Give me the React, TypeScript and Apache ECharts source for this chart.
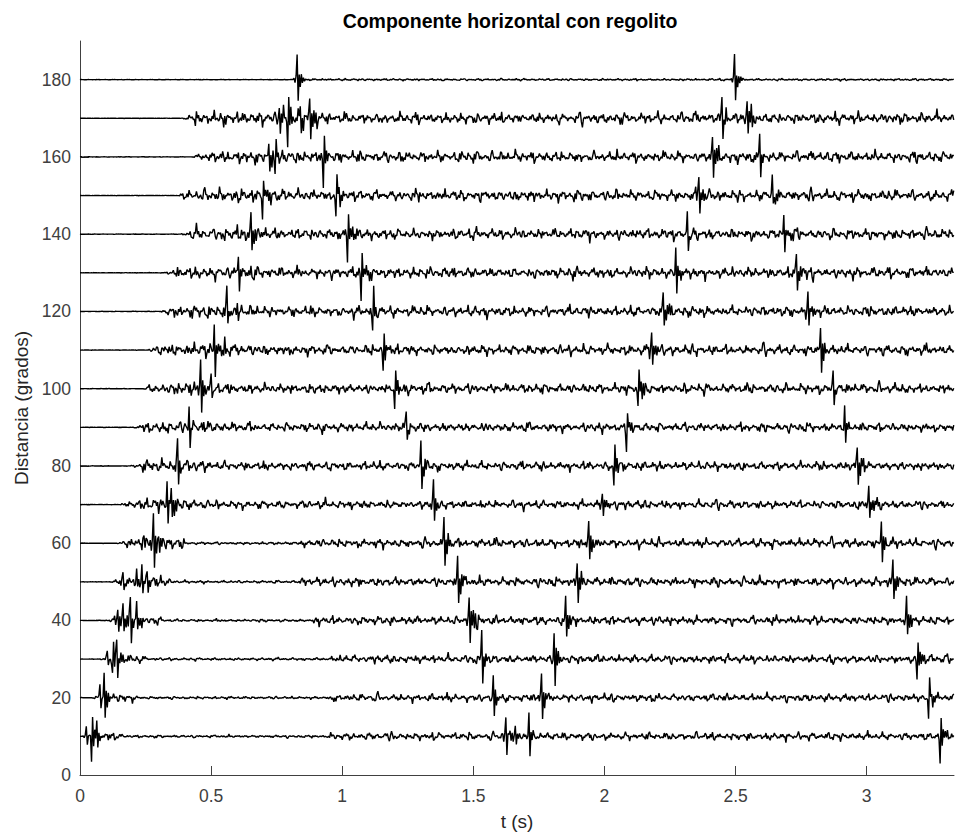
import React, { useEffect, useRef } from "react";
import * as echarts from "echarts";

// ---- data ----
const DISTANCES = [10, 20, 30, 40, 50, 60, 70, 80, 90, 100, 110, 120, 130, 140, 150, 160, 170, 180];

// arrival times (s) of the four phases, per trace (null = no arrival)
const T_A = [0.045, 0.09, 0.14, 0.19, 0.235, 0.28, 0.33, 0.37, 0.417, 0.46, 0.513, 0.558, 0.605, 0.65, 0.697, 0.745, 0.79, 0.83];
const T_B = [1.622, 1.576, 1.53, 1.484, 1.44, 1.39, 1.347, 1.298, 1.245, 1.2, 1.155, 1.115, 1.07, 1.02, 0.975, 0.926, 0.875, null];
const T_C = [1.713, 1.76, 1.808, 1.853, 1.897, 1.94, 1.99, 2.035, 2.085, 2.127, 2.18, 2.222, 2.27, 2.315, 2.36, 2.41, 2.449, 2.495];
const T_D = [3.28, 3.235, 3.19, 3.15, 3.1, 3.055, 3.01, 2.965, 2.915, 2.87, 2.822, 2.775, 2.73, 2.685, 2.64, 2.59, 2.545, null];

// peak amplitudes (degrees of offset), sign = polarity of main swing
const AMP_A = [-6, 6, 6.3, 6.8, 4.2, 7, 5.8, 7, 5.7, 7, 7, 5.5, 5.7, 4.8, -5.2, -6, -6.5, 6.5];
const AMP_B = [6, 5.3, 7, 6.5, 6, 6, 7, 5.2, 5, -5, -5, -5.4, -6.7, -6.7, -6.7, -6.7, 6.5, 0];
const AMP_C = [6.2, 6.2, 6.7, 5.4, 5, 5.5, 5, -5.7, -6, -5.7, 5, 5, 5.5, 5.5, 5.5, 5.5, 6.7, 6.5];
const AMP_D = [-5.7, -5, -5.7, 5, 5, 5.5, 5, 5.5, 5.5, 5, 5.5, 5.5, 5.5, 5, 5, 5, 5, 0];

// secondary spikes: [distance, time, amplitude]
const EXTRA_PULSES: [number, number, number][] = [
  [10, 0.025, 2.5], [10, 0.065, 3.5], [10, 1.66, 3.2],
  [20, 0.075, 3],
  [30, 0.125, -3.5], [30, 0.105, 2],
  [40, 0.145, 3], [40, 0.165, 3.8], [40, 0.215, 4], [40, 1.517, -2],
  [50, 0.165, 2.5], [50, 0.215, 3], [50, 0.255, 3],
  [60, 0.245, 2.5], [60, 0.3, 3],
  [70, 0.35, 3],
  [100, 0.5, 2.2], [110, 0.55, 2.4], [120, 0.6, 2],
  [160, 0.72, 3], [170, 0.76, 3.2], [170, 0.84, 2.6],
];

// time at which the scattered wavetrain starts on each trace
const ONSET = [0.01, 0.04, 0.07, 0.09, 0.11, 0.14, 0.15, 0.19, 0.2, 0.24, 0.25, 0.3, 0.32, 0.38, 0.37, 0.43, 0.39, 0.83];
// end of the quiet stretch after the first arrival (0 = none)
const QUIET_END = [0.95, 0.96, 0.95, 0.89, 0.84, 0.84, 0, 0, 0, 0, 0, 0, 0, 0, 0, 0, 0, 0];
// noise level before / after the first arrival
const LVL_PRE = [1.4, 1.4, 1.4, 1.5, 1.8, 2.0, 2.1, 2.1, 2.2, 2.2, 2.2, 2.2, 2.2, 2.2, 2.3, 2.2, 2.4, 0.35];
const LVL_POST = [1.3, 1.3, 1.35, 1.4, 1.5, 1.5, 1.4, 1.45, 1.5, 1.65, 1.7, 1.7, 1.8, 1.8, 1.85, 1.8, 1.8, 0.35];

// hand-drawn waveform pieces
const WAVELET = [0.06, -0.12, 0.15, 1.0, -0.85, 0.2, -0.3, 0.22, -0.14, 0.1, -0.06];
const WAVELET_PEAK = 3;
const NOISE_A = [0.2, -0.5, 0.7, -0.3, -0.6, 0.4, 0.9, -0.2, -0.8, 0.3, 0.5, -0.4, 0.1, -0.7, 0.6, 0.2, -0.9, 0.5, -0.1, 0.4, -0.6, 0.8, -0.3, -0.5, 0.6, -0.2, 0.3, -0.8, 1.0, -0.4, 0.1, -0.3, 0.5, -0.6, 0.2, 0.7, -0.5, -0.2, 0.4, -0.9, 0.6, 0.3, -0.4, 0.2, -0.6, 0.8, -0.7, 0.1, 0.5, -0.3, -0.4, 0.7, -0.2, 0.3, -0.5, 0.9, -0.8, 0.2, 0.4, -0.6, 0.3, -0.1, 0.6, -0.7, 0.5, -0.3, -0.2, 0.8, -0.6, 0.1, 0.3, -0.5, 0.7, -0.9, 0.4, 0.2, -0.3, 0.6, -0.4, -0.7, 0.9, -0.2, 0.1, -0.5, 0.4, -0.3, 0.8, -0.6, 0.2, -0.1, 0.5, -0.8, 0.6, -0.2, 0.3, -0.4, 0.1];
const NOISE_B = [0.3, 0.6, 0.4, -0.1, -0.5, -0.7, -0.4, 0.1, 0.5, 0.8, 0.5, 0.0, -0.4, -0.6, -0.3, 0.2, 0.6, 0.4, -0.1, -0.6, -0.9, -0.5, 0.0, 0.4, 0.7, 0.6, 0.2, -0.3, -0.5, -0.2, 0.3, 0.5, 0.2, -0.2, -0.7, -0.8, -0.3, 0.2, 0.6, 0.9, 0.6, 0.1, -0.3, -0.6, -0.4, 0.0, 0.4, 0.3, -0.1, -0.5, -0.6, -0.2, 0.3, 0.7, 0.5, 0.1, -0.4, -0.7, -0.5, -0.1, 0.2, 0.5, 0.7, 0.4, -0.2, -0.5, -0.3, 0.1, 0.4, 0.2, -0.3, -0.8, -0.6, -0.1, 0.3, 0.6, 0.8, 0.3, -0.2, -0.4, -0.6, -0.3, 0.2, 0.5, 0.3, -0.1, -0.4, -0.2, 0.1];
const BURST = [0.6, 0.9, 1.4, 0.8, 0.5, 1.1, 1.6, 0.7, 0.6, 1.0, 0.8, 1.3, 0.6, 0.9, 1.5, 1.1, 0.5, 0.7, 1.2, 0.9, 0.6, 1.4, 0.8, 0.5, 1.0, 1.3, 0.7, 0.9, 1.6, 0.8, 0.6, 1.1, 0.7, 1.2, 0.9, 0.5, 1.3, 1.0, 0.7, 1.5, 0.6, 0.8, 1.1, 0.9, 1.4, 0.6, 0.7, 1.2, 1.0, 0.5, 0.9, 1.3, 0.8];

const X_TICKS = [0, 0.5, 1, 1.5, 2, 2.5, 3];
const Y_TICKS = [0, 20, 40, 60, 80, 100, 120, 140, 160, 180];
const T_MAX = 3.333;
const Y_MAX = 190;
const DT = 0.004;

const TITLE = "Componente horizontal con regolito";
const X_NAME = "t (s)";
const Y_NAME = "Distancia (grados)";

const FONT = "'Liberation Sans', Arial, Helvetica, sans-serif";

function buildTrace(k: number): number[][] {
  const d = DISTANCES[k];
  const n = Math.round(T_MAX / DT) + 1;
  const sig = new Array(n).fill(0);
  const main: number[] = [];
  const pulses: [number, number][] = [];
  const add = (t: number | null, a: number) => {
    if (t === null || a === 0) return;
    pulses.push([t, a]);
    main.push(t);
  };
  add(T_A[k], AMP_A[k]);
  add(T_B[k], AMP_B[k]);
  add(T_C[k], AMP_C[k]);
  add(T_D[k], AMP_D[k]);
  EXTRA_PULSES.forEach(([dd, t, a]) => {
    if (dd === d) pulses.push([t, a]);
  });
  pulses.forEach(([t, a]) => {
    const c = Math.round(t / DT);
    WAVELET.forEach((w, j) => {
      const idx = c - WAVELET_PEAK + j;
      if (idx >= 0 && idx < n) sig[idx] += a * w;
    });
  });
  const la = NOISE_A.length, lb = NOISE_B.length, lc = BURST.length;
  const offA = k * 13, offB = k * 7, offC = k * 11;
  const tA = T_A[k] as number;
  const codaLvl = Math.max(0.6, LVL_PRE[k]) * 0.35;
  for (let i = 0; i < n; i++) {
    const t = i * DT;
    let lvl = 0.06;
    if (t >= ONSET[k]) {
      const ramp = Math.min(1, (t - ONSET[k]) / 0.06);
      let base: number;
      if (t < tA + 0.12) base = LVL_PRE[k];
      else if (QUIET_END[k] > 0 && t < QUIET_END[k]) base = 0.45;
      else base = LVL_POST[k];
      lvl = Math.max(0.06, base * ramp);
    }
    main.forEach((tp) => {
      if (t >= tp && t < tp + 0.08) lvl += codaLvl * (1 - (t - tp) / 0.08);
    });
    const nz = (0.55 * NOISE_A[(i + offA) % la] + 0.55 * NOISE_B[(i + offB) % lb]) * BURST[(Math.floor(i / 5) + offC) % lc];
    sig[i] += lvl * nz;
  }
  return sig.map((v, i) => [Number((i * DT).toFixed(3)), d + v]);
}

export default function App() {
  const ref = useRef<HTMLDivElement>(null);
  useEffect(() => {
    if (!ref.current) return;
    const chart = echarts.init(ref.current, null, { renderer: "svg" });
    const axisColor = "#404040";
    const series = DISTANCES.map((d, k) => ({
      type: "line",
      name: String(d),
      data: buildTrace(k),
      showSymbol: false,
      symbol: "none",
      silent: true,
      lineStyle: { color: "#000000", width: 1.4 },
      z: 2,
    }));
    chart.setOption({
      animation: false,
      backgroundColor: "#ffffff",
      textStyle: { fontFamily: FONT },
      graphic: [
        {
          type: "text",
          x: 510,
          y: 21,
          style: {
            text: TITLE,
            fontFamily: FONT,
            fontSize: 19.5,
            fontWeight: "bold",
            fill: "#000000",
            textAlign: "center",
            textVerticalAlign: "middle",
          },
        },
      ],
      grid: { left: 80, right: 1, top: 41, bottom: 63, containLabel: false, outerBoundsMode: "none" },
      xAxis: {
        type: "value",
        min: 0,
        max: T_MAX,
        name: X_NAME,
        nameLocation: "middle",
        nameGap: 37,
        nameTextStyle: { fontSize: 19, color: "#262626", fontFamily: FONT },
        axisLine: { show: true, lineStyle: { color: axisColor, width: 1 } },
        axisTick: { show: true, inside: true, length: 9, lineStyle: { color: axisColor }, customValues: X_TICKS },
        axisLabel: { fontSize: 17.5, color: "#404040", margin: 12, fontFamily: FONT, customValues: X_TICKS },
        splitLine: { show: false },
      },
      yAxis: {
        type: "value",
        min: 0,
        max: Y_MAX,
        name: Y_NAME,
        nameLocation: "middle",
        nameGap: 49,
        nameTextStyle: { fontSize: 19, color: "#262626", fontFamily: FONT },
        axisLine: { show: true, lineStyle: { color: axisColor, width: 1 } },
        axisTick: { show: true, inside: true, length: 9, lineStyle: { color: axisColor }, customValues: Y_TICKS },
        axisLabel: { fontSize: 17.5, color: "#404040", margin: 9, fontFamily: FONT, customValues: Y_TICKS },
        splitLine: { show: false },
      },
      series,
    });
    return () => chart.dispose();
  }, []);
  return (
    <div
      ref={ref}
      style={{ position: "absolute", left: 0, top: 0, width: 955, height: 838, background: "#fff" }}
    />
  );
}
